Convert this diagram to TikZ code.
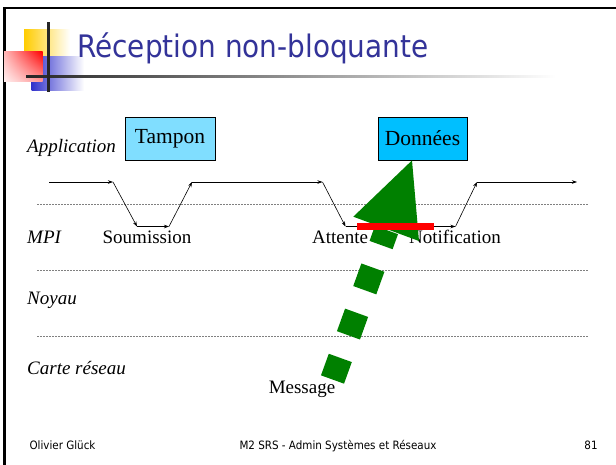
\documentclass[tikz,border=0pt]{standalone}
\usepackage{fontspec}
\setmainfont{Liberation Serif}
\newfontfamily\tahoma[FakeStretch=0.9]{DejaVu Sans}
\usetikzlibrary{arrows.meta,shadings}
\definecolor{titleblue}{RGB}{51,51,153}
\definecolor{tamponcol}{RGB}{128,222,255}
\definecolor{donneescol}{RGB}{0,191,255}
\definecolor{msggreen}{RGB}{0,128,0}
\definecolor{decoyellow}{RGB}{255,204,0}
\definecolor{decoblue}{RGB}{51,51,204}
\tikzset{
  lay/.style={anchor=west, inner sep=0pt, font=\itshape\fontsize{19}{19}\selectfont},
  lbl/.style={inner sep=0pt, font=\fontsize{19}{19}\selectfont},
  datbox/.style={draw=black, line width=0.8pt, minimum width=90pt, minimum height=43pt, inner sep=0pt, font=\fontsize{21.5}{21.5}\selectfont},
  tl/.style={line width=0.6pt, -{Stealth[length=5pt,width=3.5pt]}},
  sep/.style={draw=gray, line width=0.8pt, dash pattern=on 2pt off 1pt},
  foot/.style={inner sep=0pt, anchor=base, font=\tahoma\fontsize{11.5}{11.5}\selectfont}
}
\begin{document}
\begin{tikzpicture}[x=1pt,y=-1pt]
\useasboundingbox (0,0) rectangle (616,464);
\fill[white] (0,0) rectangle (616,464);
% frame
\draw[line width=2.7pt] (4.7,470) -- (4.7,8) -- (622,8);
% decoration
\shade[left color=decoyellow, middle color=decoyellow, right color=white] (24,29) rectangle (70,58);
\shade[left color=decoblue, middle color=decoblue, right color=white] (31.7,56.7) rectangle (84,90);
\shade[upper left=red!28, upper right=red, lower left=red!6, lower right=red!40] (4,51.7) rectangle (42.7,81.7);
\shade[left color=black!85, right color=white] (26,75) rectangle (556,77.6);
\fill[black!85] (47.3,21.7) rectangle (50,92.3);
% title
\node[anchor=base west, inner sep=0pt, text=titleblue, font=\tahoma\fontsize{31}{31}\selectfont] (title) at (77,57) {Réception non-bloquante};
% separators
\coordinate (s1a) at (37,204.5); \coordinate (s1b) at (588,204.5);
\coordinate (s2a) at (37,270); \coordinate (s2b) at (588,270);
\coordinate (s3a) at (37,336); \coordinate (s3b) at (588,336);
\draw[sep] (s1a) -- (s1b);
\draw[sep] (s2a) -- (s2b);
\draw[sep] (s3a) -- (s3b);
% layer labels
\node[lay] (app) at (27,148) {Application};
\node[lay] (mpi) at (27,237) {MPI};
\node[lay] (noyau) at (27,300) {Noyau};
\node[lay] (carte) at (27,368) {Carte réseau};
% boxes
\node[datbox, fill=tamponcol] (tampon) at (170,138.5) {Tampon};
\node[datbox, fill=donneescol, minimum width=89pt] (donnees) at (422.5,138.5) {Données};
% timeline
\coordinate (t0) at (49,182);
\coordinate (t1) at (113,182);
\coordinate (t2) at (137,226.5);
\coordinate (t3) at (169,226.5);
\coordinate (t4) at (192,182);
\coordinate (t5) at (322.5,182);
\coordinate (t6) at (345.5,226.5);
\coordinate (t7) at (455.5,226.5);
\coordinate (t8) at (477,182);
\coordinate (t9) at (577,182);
\draw[tl] (t0) -- (t1);
\draw[tl] (t1) -- (t2);
\draw[tl] (t2) -- (t3);
\draw[tl] (t3) -- (t4);
\draw[tl] (t4) -- (t5);
\draw[tl] (t5) -- (t6);
\draw[tl] (t6) -- (t7);
\draw[tl] (t7) -- (t8);
\draw[tl] (t8) -- (t9);
% MPI labels
\node[lbl] (soum) at (147,237) {Soumission};
\node[lbl] (att) at (340,237) {Attente};
\node[lbl] (notif) at (455,237) {Notification};
% message arrow
\coordinate (abase) at (386.5,230);
\coordinate (aend) at (332.5,379.5);
\coordinate (ac1) at (419,241);
\coordinate (ac2) at (353.3,216.7);
\draw[msggreen, line width=24.5pt, dash pattern=on 24pt off 24pt, dash phase=8pt] (abase) -- (aend);
\fill[msggreen] (donnees.south) ++(-10.5,0) coordinate (tip) -- (ac1) -- (ac2) -- cycle;
\node[lbl] (msg) at (302,389) {Message};
% red bar
\fill[red] (357,223.3) rectangle (434,229.6);
% footer
\node[foot] (f1) at (62.5,449) {Olivier Glück};
\node[foot] (f2) at (338,449) {M2 SRS - Admin Systèmes et Réseaux};
\node[foot] (f3) at (591,449) {81};
\end{tikzpicture}
\end{document}
